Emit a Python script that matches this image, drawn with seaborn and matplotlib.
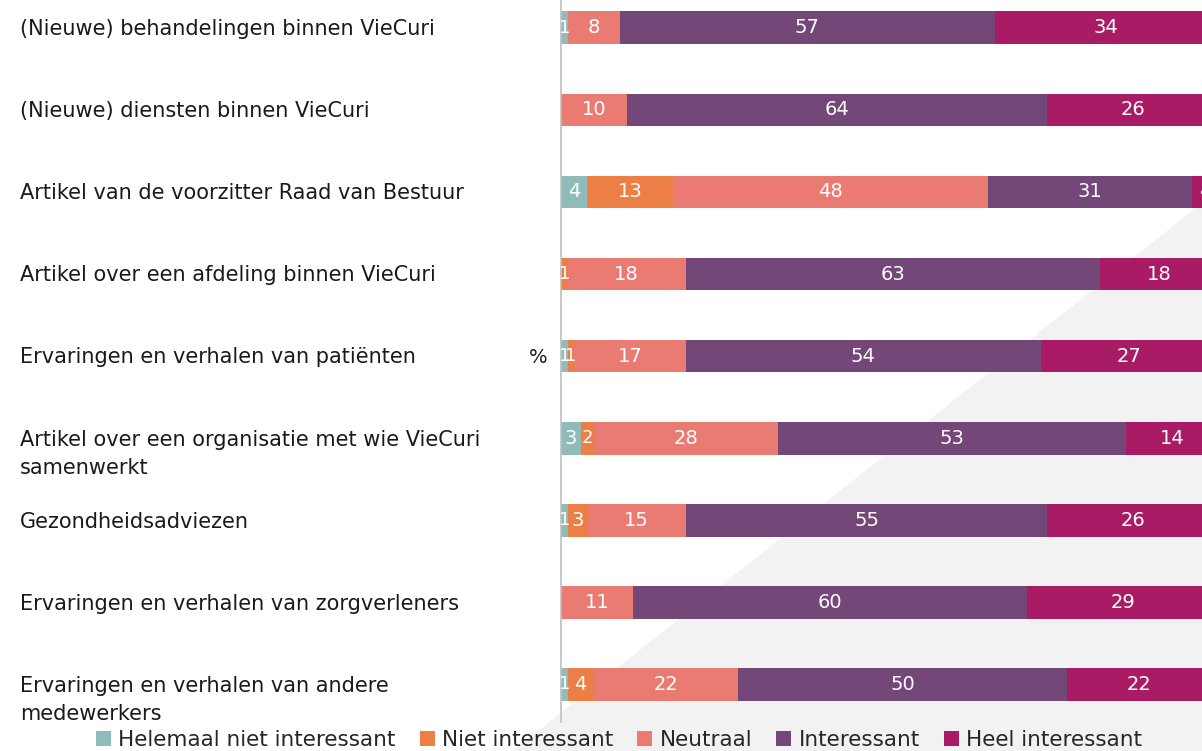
import matplotlib
matplotlib.use("Agg")
import matplotlib.pyplot as plt
import matplotlib.transforms as mtransforms
from matplotlib.patches import Patch, Polygon
import pandas as pd
import seaborn as sns

# data (percentages)
topics = [
    "(Nieuwe) behandelingen binnen VieCuri",
    "(Nieuwe) diensten binnen VieCuri",
    "Artikel van de voorzitter Raad van Bestuur",
    "Artikel over een afdeling binnen VieCuri",
    "Ervaringen en verhalen van patiënten",
    "Artikel over een organisatie met wie VieCuri\nsamenwerkt",
    "Gezondheidsadviezen",
    "Ervaringen en verhalen van zorgverleners",
    "Ervaringen en verhalen van andere\nmedewerkers",
]
categories = ["Helemaal niet interessant", "Niet interessant", "Neutraal",
              "Interessant", "Heel interessant"]
helemaal_niet = [1, 0, 4, 0, 1, 3, 1, 0, 1]
niet = [0, 0, 13, 1, 1, 2, 3, 0, 4]
neutraal = [8, 10, 48, 18, 17, 28, 15, 11, 22]
interessant = [57, 64, 31, 63, 54, 53, 55, 60, 50]
heel = [34, 26, 4, 18, 27, 14, 26, 29, 22]
colors = ["#8FBCBB", "#EC7F45", "#E97B73", "#734879", "#A91C65"]

df = pd.DataFrame({"topic": topics, categories[0]: helemaal_niet,
                   categories[1]: niet, categories[2]: neutraal,
                   categories[3]: interessant, categories[4]: heel})
cum = df[categories].cumsum(axis=1)

sns.set_theme(style="white")
plt.rcParams["font.family"] = ["DejaVu Sans"]

W, H = 1202, 751
fig = plt.figure(figsize=(W / 100, H / 100), dpi=100)
fig.patch.set_facecolor("white")

# grey diagonal background shape
bg = Polygon([[513 / W, 0], [1202 / W, 548 / H], [1, 0]], closed=True,
             transform=fig.transFigure, facecolor="#F2F2F2", edgecolor="none", zorder=-1)
fig.patches.append(bg)

ax = fig.add_axes([561 / W, 29 / H, 657 / W, 722 / H])
ax.set_facecolor("none")
ax.set_zorder(1)

# stacked bars: draw cumulative layers from the outermost inwards
for cat, col in reversed(list(zip(categories, colors))):
    sns.barplot(x=cum[cat], y=df["topic"], orient="h", color=col,
                width=0.4, saturation=1, ax=ax, linewidth=0)

ax.set_xlim(0, 100)
ax.set_ylim(8.46, -0.34)
ax.set_xlabel("")
ax.set_ylabel("")
ax.set_xticks([])
ax.set_yticks([])
for s in ["top", "right", "bottom"]:
    ax.spines[s].set_visible(False)
ax.spines["left"].set_color("#BFBFBF")
ax.spines["left"].set_linewidth(1.2)

# value labels
for i in range(len(topics)):
    left = 0
    for cat in categories:
        v = df[cat][i]
        if v > 0:
            ax.text(left + v / 2, i, str(v), ha="center", va="center",
                    color="white", fontsize=14 if v > 2 else 13, clip_on=False)
        left += v

# topic labels, left aligned, first line level with the bar
trans = mtransforms.blended_transform_factory(fig.transFigure, ax.transData)
for i, t in enumerate(topics):
    ax.text(20 / W, i - 0.105, t, transform=trans, ha="left", va="top",
            fontsize=15, color="#1A1A1A", linespacing=1.55)

fig.text(538 / W, 1 - 357 / H, "%", ha="center", va="center",
         fontsize=14, color="#1A1A1A")

handles = [Patch(facecolor=c, edgecolor="none") for c in colors]
fig.legend(handles, categories, loc="lower center", bbox_to_anchor=(619 / W, -0.025),
           ncol=5, frameon=False, fontsize=15.5, handlelength=0.7, handleheight=0.7,
           handletextpad=0.35, columnspacing=1.1)

fig.savefig("out.png", dpi=100)
